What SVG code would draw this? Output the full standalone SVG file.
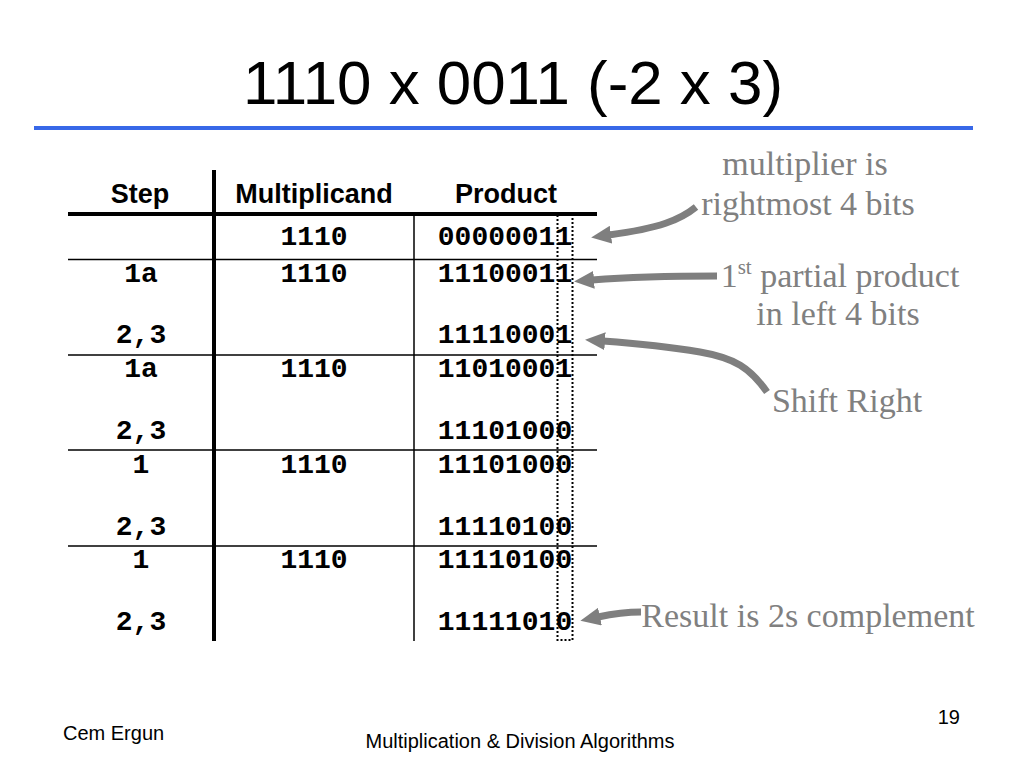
<svg xmlns="http://www.w3.org/2000/svg" width="1024" height="768" viewBox="0 0 1024 768">
<style>
.title{font-family:"Liberation Sans",Arial,sans-serif;font-size:62px;fill:#000}
.hdr{font-family:"Liberation Sans",Arial,sans-serif;font-size:27px;font-weight:bold;fill:#000;text-anchor:middle}
.cell{font-family:"Liberation Mono","Courier New",monospace;font-size:28px;font-weight:bold;fill:#000;text-anchor:middle}
.note{font-family:"Liberation Serif","Times New Roman",serif;font-size:34px;fill:#808080;text-anchor:middle}
.foot{font-family:"Liberation Sans",Arial,sans-serif;font-size:20px;fill:#000}
.thick{stroke:#000;stroke-width:4;fill:none}
.thin{stroke:#000;stroke-width:1.5;fill:none}
.conn{stroke:#7f7f7f;stroke-width:7;fill:none;marker-end:url(#head)}
</style>
<defs>
<marker id="head" viewBox="0 0 20 18" refX="2" refY="9" markerWidth="20" markerHeight="18" markerUnits="userSpaceOnUse" orient="auto">
<path d="M0,0 L20,9 L0,18 z" fill="#7f7f7f"/>
</marker>
</defs>
<rect width="1024" height="768" fill="#fff"/>
<g id="title">
<text class="title" x="243" y="104" textLength="540" lengthAdjust="spacingAndGlyphs">1110 x 0011 (-2 x 3)</text>
<line x1="34" y1="128" x2="973" y2="128" stroke="#3868e8" stroke-width="4"/>
</g>
<g id="table">
<line class="thick" x1="68" y1="214" x2="597" y2="214"/>
<line class="thick" x1="214" y1="170" x2="214" y2="641"/>
<line class="thin" x1="414" y1="214" x2="414" y2="641"/>
<line class="thin" x1="68" y1="259.5" x2="597" y2="259.5"/>
<line class="thin" x1="68" y1="355" x2="597" y2="355"/>
<line class="thin" x1="68" y1="450" x2="597" y2="450"/>
<line class="thin" x1="68" y1="546" x2="597" y2="546"/>
<rect x="557.5" y="213" width="15" height="427" fill="none" stroke="#000" stroke-width="2" stroke-dasharray="2 2"/>
<text class="hdr" x="140" y="203">Step</text>
<text class="hdr" x="314" y="203">Multiplicand</text>
<text class="hdr" x="506" y="203">Product</text>
<text class="cell" x="314" y="245">1110</text>
<text class="cell" x="505" y="245">00000011</text>
<text class="cell" x="141" y="282">1a</text>
<text class="cell" x="314" y="282">1110</text>
<text class="cell" x="505" y="282">11100011</text>
<text class="cell" x="141" y="343">2,3</text>
<text class="cell" x="505" y="343">11110001</text>
<text class="cell" x="141" y="377">1a</text>
<text class="cell" x="314" y="377">1110</text>
<text class="cell" x="505" y="377">11010001</text>
<text class="cell" x="141" y="439">2,3</text>
<text class="cell" x="505" y="439">11101000</text>
<text class="cell" x="141" y="473">1</text>
<text class="cell" x="314" y="473">1110</text>
<text class="cell" x="505" y="473">11101000</text>
<text class="cell" x="141" y="535">2,3</text>
<text class="cell" x="505" y="535">11110100</text>
<text class="cell" x="141" y="568">1</text>
<text class="cell" x="314" y="568">1110</text>
<text class="cell" x="505" y="568">11110100</text>
<text class="cell" x="141" y="630">2,3</text>
<text class="cell" x="505" y="630">11111010</text>
</g>
<g id="note-multiplier">
<text class="note" x="805" y="175">multiplier is</text>
<text class="note" x="808" y="215">rightmost 4 bits</text>
</g>
<g id="note-partial">
<text class="note" x="840" y="287">1<tspan font-size="21" dy="-13">st</tspan><tspan dy="13"> partial product</tspan></text>
<text class="note" x="838" y="325">in left 4 bits</text>
</g>
<g id="note-shift">
<text class="note" x="847" y="412">Shift Right</text>
</g>
<g id="note-result">
<text class="note" x="808" y="627">Result is 2s complement</text>
</g>
<g id="connectors">
<path class="conn" d="M696,207 C680,220 660,228 609,235"/>
<path class="conn" d="M717,276 C680,276 630,277 592,280"/>
<path class="conn" d="M767,392 C750,368 735,358 700,352 C670,347 630,343 603,341"/>
<path class="conn" d="M641,612 C624,612 612,614 598,617"/>
</g>
<g id="footer">
<text class="foot" x="63" y="740">Cem Ergun</text>
<text class="foot" x="520" y="748" text-anchor="middle" font-size="19.5">Multiplication &amp; Division Algorithms</text>
<text class="foot" x="960" y="724" text-anchor="end">19</text>
</g>
</svg>
